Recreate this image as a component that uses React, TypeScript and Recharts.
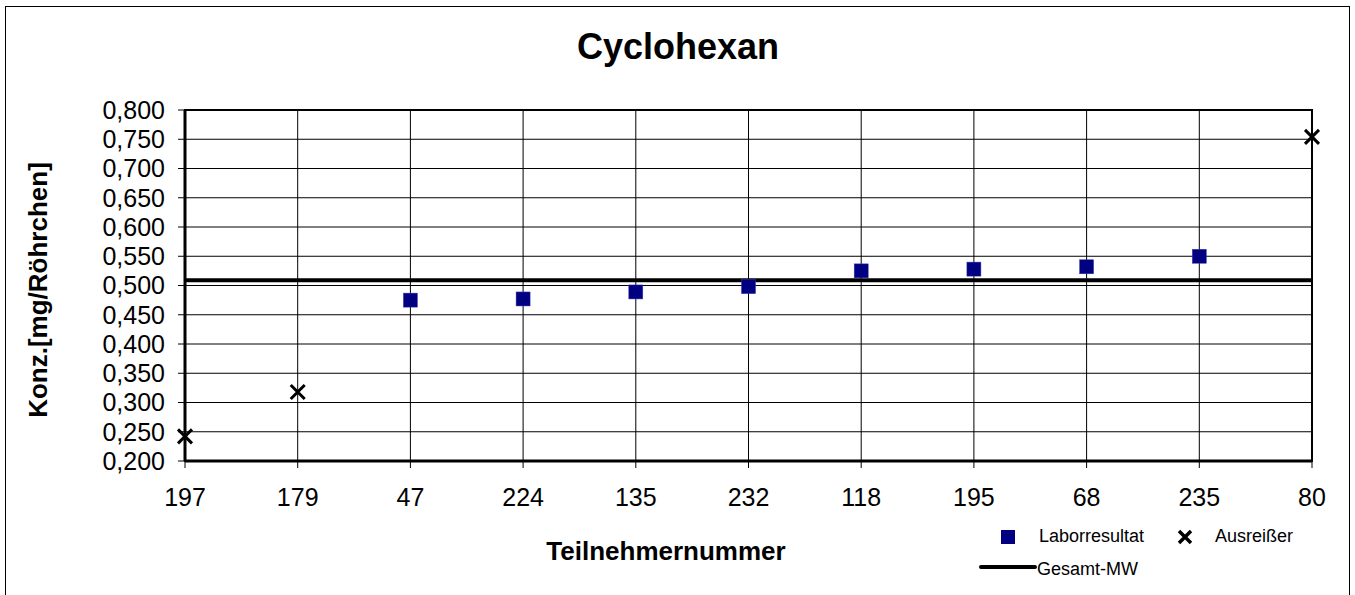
import { ComposedChart, Scatter, XAxis, YAxis, CartesianGrid, ReferenceLine, ReferenceArea, Legend } from 'recharts'

const teilnehmer = ['197', '179', '47', '224', '135', '232', '118', '195', '68', '235', '80']
const laborresultat = [null, null, 0.475, 0.477, 0.489, 0.498, 0.525, 0.528, 0.532, 0.55, null]
const ausreisser = [0.242, 0.318, null, null, null, null, null, null, null, null, 0.754]
const gesamtMW = 0.509
const yTicks = [0.2, 0.25, 0.3, 0.35, 0.4, 0.45, 0.5, 0.55, 0.6, 0.65, 0.7, 0.75, 0.8]

const data = teilnehmer.map((nr, i) => ({ nr, lab: laborresultat[i], aus: ausreisser[i] }))

const font = '"Liberation Sans", Arial, sans-serif'
const navy = '#000080'

function Quadrat(props: any) {
  if (props.payload?.lab == null) return <g />
  return <rect x={props.cx - 7} y={props.cy - 7} width={14} height={14} fill={navy} stroke="#3a3ab0" strokeWidth={0.5} />
}

function Kreuz(props: any) {
  if (props.payload?.aus == null) return <g />
  const { cx, cy } = props
  return (
    <path d={`M${cx - 7},${cy - 7}L${cx + 7},${cy + 7}M${cx + 7},${cy - 7}L${cx - 7},${cy + 7}`} stroke="#000" strokeWidth={3} />
  )
}

function Legende() {
  return (
    <svg width={380} height={70} style={{ fontFamily: font, fontSize: 18 }}>
      <rect x={26} y={10} width={14} height={14} fill={navy} />
      <text x={64} y={22} fill="#000">Laborresultat</text>
      <path d="M204,11L216,23M216,11L204,23" stroke="#000" strokeWidth={3.5} />
      <text x={240} y={22} fill="#000">Ausreißer</text>
      <line x1={6} y1={47} x2={60} y2={47} stroke="#000" strokeWidth={4} strokeLinecap="round" />
      <text x={62} y={55} fill="#000">Gesamt-MW</text>
    </svg>
  )
}

export default function App() {
  return (
    <div style={{ position: 'absolute', left: 0, top: 0, width: 1355, height: 595, background: '#fff', fontFamily: font, overflow: 'hidden' }}>
      <div style={{ position: 'absolute', left: 5, top: 6, width: 1345, height: 600, border: '1px solid #000', boxSizing: 'border-box' }} />
      <ComposedChart width={1355} height={595} data={data} margin={{ top: 110, right: 43, bottom: 0, left: 0 }}>
        <CartesianGrid stroke="#000" strokeWidth={1} />
        <ReferenceArea x1="197" x2="80" y1={0.2} y2={0.8} fill="none" stroke="#000" strokeWidth={2} />
        <XAxis
          dataKey="nr"
          type="category"
          scale="point"
          height={134}
          axisLine={{ stroke: '#000', strokeWidth: 3 }}
          tickLine={{ stroke: '#000' }}
          tickSize={7}
          tickMargin={20}
          tick={{ fill: '#000', fontSize: 25, fontFamily: font }}
          interval={0}
        />
        <YAxis
          type="number"
          domain={[0.2, 0.8]}
          ticks={yTicks}
          width={185}
          axisLine={{ stroke: '#000', strokeWidth: 3 }}
          tickLine={{ stroke: '#000' }}
          tickSize={7}
          tickMargin={13}
          tick={{ fill: '#000', fontSize: 25, fontFamily: font }}
          tickFormatter={(v: number) => v.toFixed(3).replace('.', ',')}
          interval={0}
        />
        <ReferenceLine y={gesamtMW} stroke="#000" strokeWidth={4} />
        <Scatter name="Laborresultat" dataKey="lab" shape={<Quadrat />} isAnimationActive={false} />
        <Scatter name="Ausreißer" dataKey="aus" shape={<Kreuz />} isAnimationActive={false} />
        <Legend
          layout="horizontal"
          verticalAlign="middle"
          align="center"
          wrapperStyle={{ left: 975, top: 520, width: 380, height: 70 }}
          content={() => <Legende />}
        />
      </ComposedChart>
      <svg width={1355} height={595} style={{ position: 'absolute', left: 0, top: 0, pointerEvents: 'none' }}>
        <text x={678} y={59} textAnchor="middle" fontSize={36} fontWeight="bold" fontFamily={font} fill="#000">Cyclohexan</text>
        <text x={666} y={560} textAnchor="middle" fontSize={26} fontWeight="bold" fontFamily={font} fill="#000">Teilnehmernummer</text>
        <text transform="translate(47,290) rotate(-90)" textAnchor="middle" fontSize={26} fontWeight="bold" fontFamily={font} fill="#000">Konz.[mg/Röhrchen]</text>
      </svg>
    </div>
  )
}
